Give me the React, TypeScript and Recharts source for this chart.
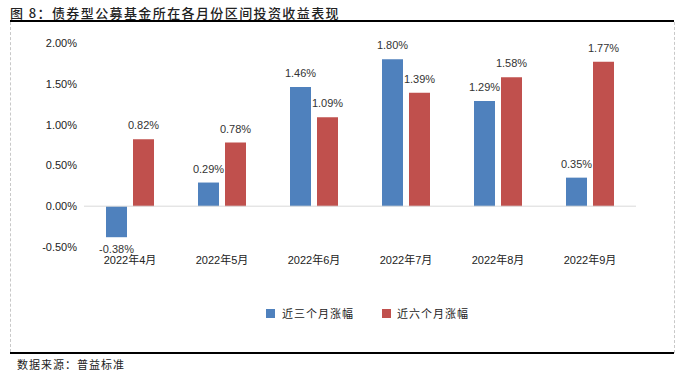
import React from 'react';
import { BarChart, Bar, XAxis, YAxis, ReferenceLine, LabelList } from 'recharts';

const months = ['2022年4月', '2022年5月', '2022年6月', '2022年7月', '2022年8月', '2022年9月'];
const threeMonth = [-0.38, 0.29, 1.46, 1.8, 1.29, 0.35];
const sixMonth = [0.82, 0.78, 1.09, 1.39, 1.58, 1.77];
const yTicks = [-0.5, 0, 0.5, 1.0, 1.5, 2.0];

const data = months.map((m, i) => ({ month: m, three: threeMonth[i], six: sixMonth[i] }));

const BLUE = '#4F81BD';
const RED = '#C0504D';
const FONT = '"Liberation Sans", "Noto Sans CJK SC", sans-serif';
const CJK = '"Noto Sans CJK SC", sans-serif';

const BarLabel = (props: any) => {
  const { x, y, width, height, value } = props;
  const cx = x + width / 2;
  const neg = value < 0;
  const top = Math.min(y, y + height);
  const bottom = Math.max(y, y + height);
  const ty = neg ? bottom + 12 : top - 14;
  return (
    <text x={cx} y={ty} textAnchor="middle" dominantBaseline="central" fontSize={11} fill="#333" fontFamily={FONT}>
      {value.toFixed(2)}%
    </text>
  );
};

const App: React.FC = () => {
  return (
    <div style={{ position: 'absolute', left: 0, top: 0, width: 686, height: 373, background: '#fff', overflow: 'hidden' }}>
      <div style={{ position: 'absolute', left: 10, top: 3, fontFamily: CJK, fontSize: 13, letterSpacing: 1.4, color: '#222', fontWeight: 500 }}>
        图 8：债券型公募基金所在各月份区间投资收益表现
      </div>
      <div style={{ position: 'absolute', left: 10, top: 20, width: 664, height: 2, background: '#000' }} />
      <div style={{ position: 'absolute', left: 10, top: 352, width: 664, height: 2, background: '#000' }} />
      <div style={{ position: 'absolute', left: 10, top: 22, height: 330, borderLeft: '1px dashed #c8c8c8' }} />
      <div style={{ position: 'absolute', left: 674, top: 22, height: 331, borderLeft: '1px dashed #c8c8c8' }} />
      <div style={{ position: 'absolute', left: 17, top: 356, fontFamily: CJK, fontSize: 11, letterSpacing: 1, color: '#222' }}>
        数据来源：普益标准
      </div>

      <div style={{ position: 'absolute', left: 0, top: 0 }}>
        <BarChart
          width={686}
          height={373}
          data={data}
          margin={{ top: 43, right: 50, bottom: 96, left: 24 }}
          barSize={21}
          barGap={6}
        >
          <XAxis
            dataKey="month"
            axisLine={false}
            tickLine={false}
            tickSize={0}
            tickMargin={9}
            height={30}
            tick={{ fontSize: 11, fill: '#222', fontFamily: FONT }}
            interval={0}
          />
          <YAxis
            width={60}
            domain={[-0.5, 2]}
            ticks={yTicks}
            axisLine={false}
            tickLine={false}
            tickSize={0}
            tickMargin={7}
            tickFormatter={(v: number) => `${v.toFixed(2)}%`}
            tick={{ fontSize: 11, fill: '#222', fontFamily: FONT }}
          />
          <ReferenceLine y={0} stroke="#d9d9d9" strokeWidth={1} />
          <Bar dataKey="three" fill={BLUE} isAnimationActive={false}>
            <LabelList dataKey="three" content={BarLabel} />
          </Bar>
          <Bar dataKey="six" fill={RED} isAnimationActive={false}>
            <LabelList dataKey="six" content={BarLabel} />
          </Bar>
        </BarChart>
      </div>

      <div style={{ position: 'absolute', left: 266, top: 305, display: 'flex', alignItems: 'center', fontFamily: CJK, fontSize: 11, color: '#222', letterSpacing: 1 }}>
        <span style={{ width: 9, height: 9, background: BLUE, display: 'inline-block', marginRight: 7 }} />
        <span>近三个月涨幅</span>
        <span style={{ width: 9, height: 9, background: RED, display: 'inline-block', marginLeft: 28, marginRight: 6 }} />
        <span>近六个月涨幅</span>
      </div>
    </div>
  );
};

export default App;
